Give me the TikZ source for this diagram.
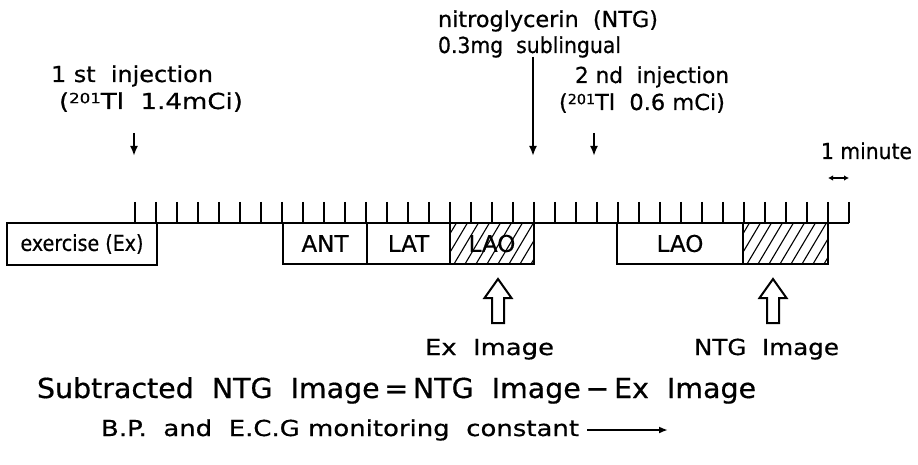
\documentclass[tikz,border=0pt]{standalone}
\usepackage{fontspec}
\setmainfont{DejaVu Sans}[FakeBold=0.6]
\usetikzlibrary{arrows.meta,calc}
\newcommand{\fitw}[2]{\resizebox{#1}{\height}{#2}}
\newcommand{\isot}{{\fontsize{14}{14}\selectfont\raisebox{5.8pt}{201}}}
\begin{document}
\begin{tikzpicture}[x=1pt,y=-1pt,line width=2pt,
  lbl/.style={anchor=base west,inner sep=0pt,font=\fontsize{22}{24}\selectfont},
  biglbl/.style={anchor=base west,inner sep=0pt,font=\fontsize{27.5}{30}\selectfont},
  stage/.style={draw,line width=2pt,inner sep=0pt,font=\fontsize{23}{24}\selectfont},
  hatched/.style={stage,path picture={
     \foreach \k in {-40,-29,...,100}
       \draw[line width=1.1pt] ([xshift=\k pt]path picture bounding box.south west) -- ++(25pt,42pt);}},
  arr/.style={-{Latex[length=10pt,width=8pt]},line width=2pt},
  hollow/.style={line width=2pt,line join=miter}]
\useasboundingbox (0,0) rectangle (918,465);

% ruler
\foreach \i in {0,...,34}
  \draw ({135+21*\i},202) -- ({135+21*\i},223);
\draw (135,223) -- (849,223);

% stage boxes
\node[stage,minimum width=150pt,minimum height=42pt,font=\fontsize{22}{24}\selectfont] (ex) at (82,244) {\fitw{123pt}{exercise (Ex)}};
\node[stage,minimum width=84pt,minimum height=41pt] (ant) at (325,243.5) {ANT};
\node[stage,minimum width=83pt,minimum height=41pt] (lat) at (408.5,243.5) {LAT};
\node[hatched,minimum width=84pt,minimum height=41pt] (lao1) at (492,243.5) {LAO};
\node[stage,minimum width=126pt,minimum height=41pt] (lao2) at (680,243.5) {LAO};
\node[hatched,minimum width=85pt,minimum height=41pt] (ntgbox) at (785.5,243.5) {};

% top labels
\node[lbl] (inja) at (50,82) {\fitw{162pt}{1 st\ \ injection}};
\node[lbl] (injb) at (58,109) {\fitw{184pt}{(\isot Tl\ \ 1.4mCi)}};
\node[lbl] (ntga) at (437,27) {\fitw{220pt}{nitroglycerin\ \ (NTG)}};
\node[lbl] (ntgb) at (437,53) {\fitw{183pt}{0.3mg\ \ sublingual}};
\node[lbl] (injc) at (574,83) {\fitw{154pt}{2 nd\ \ injection}};
\node[lbl] (injd) at (558,110) {\fitw{166pt}{(\isot Tl\ \ 0.6 mCi)}};
\node[lbl] (minute) at (820,159) {\fitw{91pt}{1 minute}};

% down arrows
\coordinate (a1s) at (134,133); \coordinate (a1e) at (134,156);
\coordinate (a2s) at (533,57);  \coordinate (a2e) at (533,156);
\coordinate (a3s) at (594,133); \coordinate (a3e) at (594,156);
\draw[arr] (a1s) -- (a1e);
\draw[arr] (a2s) -- (a2e);
\draw[arr] (a3s) -- (a3e);

% one minute scale
\coordinate (m1) at (828,178); \coordinate (m2) at (849,178);
\draw[{Latex[length=5pt,width=5.5pt]}-{Latex[length=5pt,width=5.5pt]},line width=1.6pt] (m1) -- (m2);

% hollow arrows
\coordinate (exTip) at (498,279);
\coordinate (ntgTip) at (773,279);
\draw[hollow] (exTip) -- ++(13.5,19) -- ++(-7.5,0) -- ++(0,25) -- ++(-12,0) -- ++(0,-25) -- ++(-7.5,0) -- cycle;
\draw[hollow] (ntgTip) -- ++(13.5,19) -- ++(-7.5,0) -- ++(0,25) -- ++(-12,0) -- ++(0,-25) -- ++(-7.5,0) -- cycle;

\node[lbl] (eximg) at (424,355) {\fitw{129pt}{Ex\ \ Image}};
\node[lbl] (ntgimg) at (693,355) {\fitw{145pt}{NTG\ \ Image}};

% bottom lines
\node[biglbl] (formula) at (36,398) {\fitw{719pt}{Subtracted\ \ NTG\ \ Image\,=\,NTG\ \ Image\,−\,Ex\ \ Image}};
\node[lbl] (bp) at (100,436) {\fitw{478pt}{B.P.\ \ and\ \ E.C.G monitoring\ \ constant}};
\coordinate (bps) at (587,430); \coordinate (bpe) at (668,430);
\draw[-{Latex[length=9pt,width=7pt]},line width=1.8pt] (bps) -- (bpe);
\end{tikzpicture}
\end{document}
